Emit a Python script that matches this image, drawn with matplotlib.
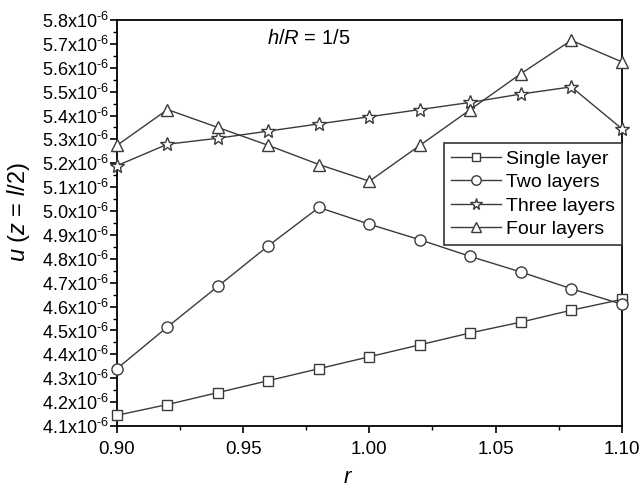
#!/usr/bin/env python3

import matplotlib
matplotlib.use("Agg")
import matplotlib.pyplot as plt
from matplotlib.ticker import FuncFormatter, MultipleLocator

plt.rcParams["font.family"] = ["Liberation Sans", "DejaVu Sans"]
plt.rcParams["mathtext.fontset"] = "custom"
plt.rcParams["mathtext.rm"] = "Liberation Sans"
plt.rcParams["mathtext.it"] = "Liberation Sans:italic"

r = [0.90, 0.92, 0.94, 0.96, 0.98, 1.00, 1.02, 1.04, 1.06, 1.08, 1.10]

# displacement values in units of 1e-6
single_layer = [4.145, 4.19, 4.24, 4.29, 4.34, 4.39, 4.44, 4.49, 4.535, 4.585, 4.63]
two_layers = [4.34, 4.515, 4.685, 4.855, 5.015, 4.945, 4.88, 4.81, 4.745, 4.675, 4.61]
three_layers = [5.19, 5.28, 5.305, 5.335, 5.365, 5.395, 5.425, 5.455, 5.49, 5.52, 5.345]
four_layers = [5.275, 5.425, 5.35, 5.275, 5.195, 5.125, 5.275, 5.425, 5.575, 5.715, 5.625]

series = [
    ("Single layer", single_layer, "s", 7),
    ("Two layers", two_layers, "o", 8),
    ("Three layers", three_layers, "*", 10),
    ("Four layers", four_layers, "^", 9),
]

LINE = "#3a3a3a"


def sci_label(value, _pos):
    return f"{value:.1f}x10$^{{\\text{{-6}}}}$"


def main() -> None:
    fig = plt.figure(figsize=(6.41, 4.88), dpi=100)
    ax = fig.add_axes([0.1825, 0.127, 0.7875, 0.832])

    for name, values, marker, size in series:
        ax.plot(r, values, color=LINE, linewidth=1.0, marker=marker, markersize=size,
                markerfacecolor="white", markeredgecolor=LINE, markeredgewidth=1.0,
                label=name, clip_on=False, zorder=3)

    ax.set_xlim(0.90, 1.10)
    ax.set_ylim(4.1, 5.8)
    ax.xaxis.set_major_locator(MultipleLocator(0.05))
    ax.xaxis.set_minor_locator(MultipleLocator(0.025))
    ax.yaxis.set_major_locator(MultipleLocator(0.1))
    ax.yaxis.set_minor_locator(MultipleLocator(0.05))
    ax.xaxis.set_major_formatter(FuncFormatter(lambda v, _p: f"{v:.2f}"))
    ax.yaxis.set_major_formatter(FuncFormatter(sci_label))
    ax.tick_params(which="major", direction="out", length=5, width=1.2, labelsize=13)
    ax.tick_params(which="minor", direction="out", length=3, width=1.0)
    ax.tick_params(axis="y", pad=1)
    ax.tick_params(axis="x", labelsize=13.5, pad=6)
    for spine in ax.spines.values():
        spine.set_linewidth(1.3)

    ax.set_xlabel("$r$", fontsize=16)
    ax.xaxis.set_label_coords(0.457, -0.1)
    ax.set_ylabel("$u$ ($z$ = $l$/2)", fontsize=17)
    ax.yaxis.set_label_coords(-0.168, 0.527)
    ax.text(0.38, 0.955, "$h$/$R$ = 1/5", transform=ax.transAxes, fontsize=14.5,
            ha="center", va="center")

    leg = ax.legend(loc="lower right", bbox_to_anchor=(1.0, 0.446), fontsize=14,
                    fancybox=False, framealpha=1, edgecolor="#333333",
                    handlelength=2.6, handletextpad=0.25, borderpad=0.35,
                    labelspacing=0.3, borderaxespad=0, markerscale=0.85)
    leg.get_frame().set_linewidth(1.2)

    fig.savefig("out.png", dpi=100)
    plt.close(fig)


if __name__ == "__main__":
    main()
